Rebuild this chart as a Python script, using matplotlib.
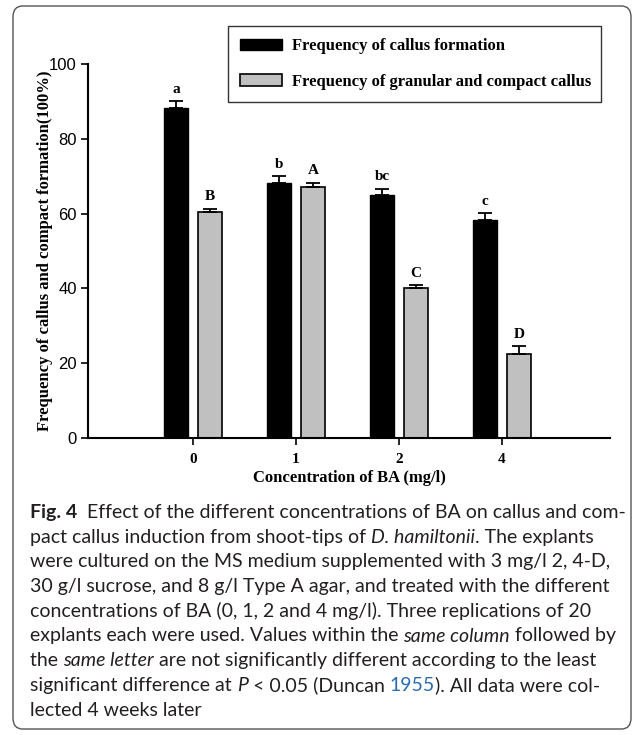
import matplotlib
matplotlib.use("Agg")
import matplotlib.pyplot as plt
from matplotlib.patches import FancyBboxPatch, Patch
import numpy as np

# data
conc = ["0", "1", "2", "4"]
callus = [88.3, 68.3, 65.0, 58.3]
callus_err = [1.7, 1.7, 1.7, 1.8]
compact = [60.5, 67.0, 40.0, 22.5]
compact_err = [0.8, 1.3, 0.8, 2.0]
callus_letters = ["a", "b", "bc", "c"]
compact_letters = ["B", "A", "C", "D"]
legend_labels = ["Frequency of callus formation",
                 "Frequency of granular and compact callus"]

W, H = 637, 735
fig = plt.figure(figsize=(W / 100, H / 100), dpi=100)

serif = ["Liberation Serif", "DejaVu Serif"]
narrow = ["Liberation Sans Narrow", "Liberation Sans", "DejaVu Sans"]

# outer rounded frame
frame = FancyBboxPatch((13 / W, 1 - 729 / H), 618 / W, 723 / H,
                       boxstyle="round,pad=0,rounding_size=0.015",
                       transform=fig.transFigure, fill=False,
                       edgecolor="#555555", linewidth=1.0)
fig.patches.append(frame)

ax = fig.add_axes([88 / W, 1 - 438 / H, (610 - 88) / W, (438 - 64) / H])
x = np.arange(len(conc))
bw = 0.23
off = 0.165

ax.bar(x - off, callus, bw, color="black", edgecolor="black", linewidth=1,
       label=legend_labels[0], zorder=2)
ax.bar(x + off, compact, bw, color="#c0c0c0", edgecolor="black", linewidth=1.2,
       label=legend_labels[1], zorder=2)
ax.errorbar(x - off, callus, yerr=[np.zeros(4), callus_err], fmt="none",
            ecolor="black", elinewidth=1.3, capsize=5, capthick=1.3, zorder=3)
ax.errorbar(x + off, compact, yerr=[np.zeros(4), compact_err], fmt="none",
            ecolor="black", elinewidth=1.3, capsize=5, capthick=1.3, zorder=3)

for i in range(4):
    ax.annotate(callus_letters[i], (x[i] - off, callus[i] + callus_err[i]),
                xytext=(0, 4), textcoords="offset points", ha="center",
                va="bottom", fontsize=11, fontweight="bold", family=serif)
    ax.annotate(compact_letters[i], (x[i] + off, compact[i] + compact_err[i]),
                xytext=(0, 4), textcoords="offset points", ha="center",
                va="bottom", fontsize=11, fontweight="bold", family=serif)

ax.set_xlim(-1.02, 4.05)
ax.set_ylim(0, 100)
ax.set_yticks([0, 20, 40, 60, 80, 100])
ax.set_xticks(x)
ax.set_xticklabels(conc, family=serif, fontweight="bold", fontsize=11)
for lab in ax.get_yticklabels():
    lab.set_family(narrow)
    lab.set_fontsize(12)
ax.tick_params(axis="both", direction="out", length=5, width=1.2, pad=3)
ax.tick_params(axis="x", pad=6)
for s in ["top", "right"]:
    ax.spines[s].set_visible(False)
for s in ["left", "bottom"]:
    ax.spines[s].set_linewidth(1.5)

ax.set_ylabel("Frequency of callus and compact formation(100%)",
              family=serif, fontweight="bold", fontsize=12, labelpad=0)
ax.yaxis.set_label_coords(-35 / 522, 0.5)
ax.set_xlabel("Concentration of BA (mg/l)", family=serif, fontweight="bold",
              fontsize=12, labelpad=3)

handles = [Patch(facecolor="black", edgecolor="black"),
           Patch(facecolor="#c0c0c0", edgecolor="black", linewidth=1.2)]
leg = ax.legend(handles, legend_labels, loc="upper left",
                bbox_to_anchor=(0.268, 0.889, 0.715, 0.213), mode="expand",
                prop={"family": serif, "weight": "bold", "size": 12},
                frameon=True, fancybox=False, handlelength=2.5,
                handleheight=0.7, labelspacing=1.15, borderpad=0.75,
                handletextpad=0.6, borderaxespad=0)
leg.get_frame().set_edgecolor("black")
leg.get_frame().set_linewidth(1.0)

# caption, drawn segment by segment
cap_lines = [
    [("Fig. 4", "b"), ("  Effect of the different concentrations of BA on callus and com-", "n")],
    [("pact callus induction from shoot-tips of ", "n"), ("D. hamiltonii", "i"), (". The explants", "n")],
    [("were cultured on the MS medium supplemented with 3 mg/l 2, 4-D,", "n")],
    [("30 g/l sucrose, and 8 g/l Type A agar, and treated with the different", "n")],
    [("concentrations of BA (0, 1, 2 and 4 mg/l). Three replications of 20", "n")],
    [("explants each were used. Values within the ", "n"), ("same column", "i"), (" followed by", "n")],
    [("the ", "n"), ("same letter", "i"), (" are not significantly different according to the least", "n")],
    [("significant difference at ", "n"), ("P", "i"), (" < 0.05 (Duncan ", "n"), ("1955", "blue"), ("). All data were col-", "n")],
    [("lected 4 weeks later", "n")],
]
cap_font = ["Lato", "DejaVu Sans"]
renderer = fig.canvas.get_renderer()


def draw_line(segs, x0, ybase, size, dry=False):
    xpos = x0
    made = []
    for txt, st in segs:
        kw = dict(fontsize=size, family=cap_font, color="#231f20",
                  va="baseline", ha="left")
        if st == "b":
            kw["fontweight"] = "bold"
        elif st == "i":
            kw["style"] = "italic"
        elif st == "blue":
            kw["color"] = "#2b6cb0"
        t = fig.text(xpos / W, 1 - ybase / H, txt, **kw)
        made.append(t)
        xpos += t.get_window_extent(renderer).width
    if dry:
        for t in made:
            t.remove()
    return xpos - x0


# fit the first caption line to its width in the reference
w10 = draw_line(cap_lines[0], 30, 518, 10, dry=True)
cap_size = 10 * 595 / w10

for k, segs in enumerate(cap_lines):
    draw_line(segs, 30, 518 + k * 24.7, cap_size)

fig.savefig("out.png", dpi=100)
